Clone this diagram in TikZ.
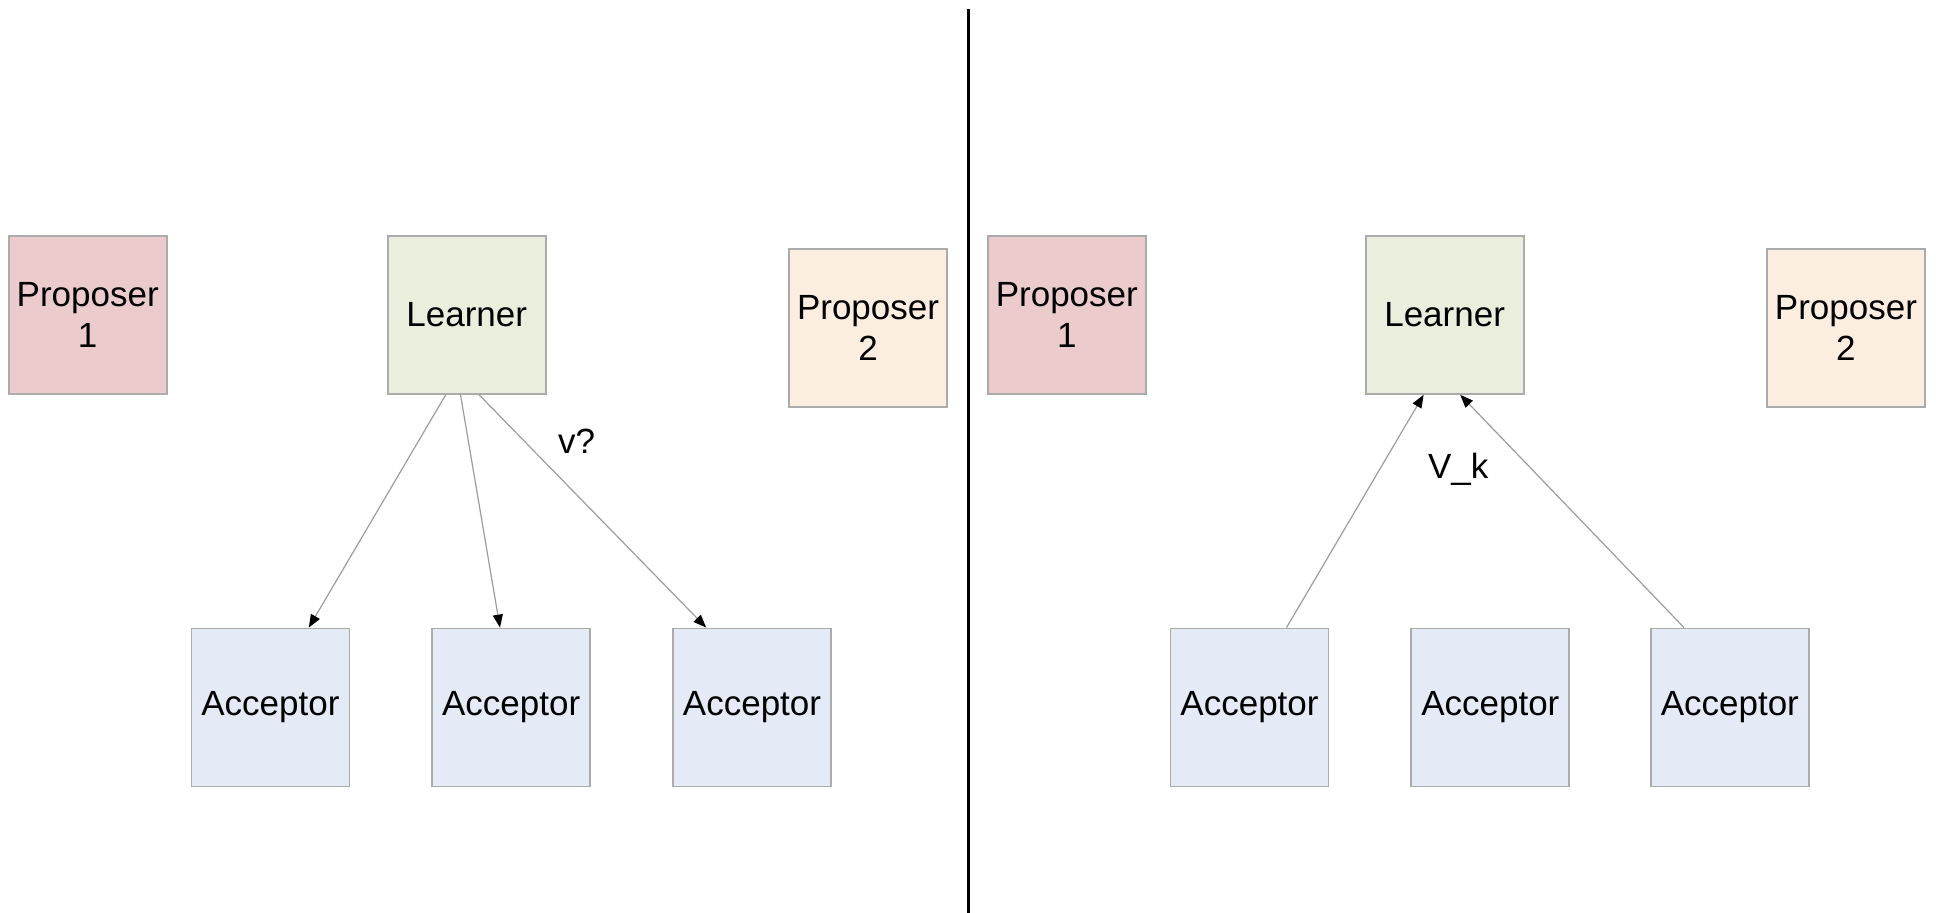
\documentclass[tikz,border=0pt]{standalone}
\usepackage{fontspec}
\setmainfont{Liberation Sans}
\usetikzlibrary{arrows.meta,calc}

\definecolor{propA}{HTML}{EBCBCB}
\definecolor{propB}{HTML}{FCEDE1}
\definecolor{learnfill}{HTML}{E9EEDD}
\definecolor{accfill}{HTML}{E4EBF6}
\definecolor{boxline}{HTML}{ABABAB}
\definecolor{msgline}{HTML}{9C9C9C}

\tikzset{
  box/.style={draw=boxline, line width=0.9pt, minimum width=79pt, minimum height=79pt,
    inner sep=0pt, align=center, font=\fontsize{17.5}{20.5}\selectfont},
  proposerA/.style={box, fill=propA},
  proposerB/.style={box, fill=propB},
  learner/.style={box, fill=learnfill},
  acceptor/.style={box, fill=accfill},
  msg/.style={draw=msgline, line width=0.6pt,
    -{Triangle[black, length=6.5pt, width=5pt]}},
  tag/.style={font=\fontsize{17.5}{20.5}\selectfont, inner sep=0pt},
}

\begin{document}
\begin{tikzpicture}[x=0.5pt, y=-0.5pt]
  \useasboundingbox (0,0) rectangle (1936,913);

  % divider between the two phases
  \coordinate (top) at (968,9);
  \coordinate (bottom) at (968,913);
  \draw[line width=1.5pt] (top) -- (bottom);

  % ---- left: learner asks the acceptors ----
  \node[proposerA] (p1l) at (87.7,314.9) {Proposer\\1};
  \node[learner]   (ll)  at (466.7,314.9) {Learner};
  \node[proposerB] (p2l) at (868,328.4) {Proposer\\2};
  \node[acceptor]  (a1l) at (270.4,707.5) {Acceptor};
  \node[acceptor]  (a2l) at (511.2,707.5) {Acceptor};
  \node[acceptor]  (a3l) at (752,707.5) {Acceptor};

  \draw[msg] ($(ll.south)+(-10.5pt,0)$) -- ($(a1l.north)+(19.2pt,0)$);
  \draw[msg] ($(ll.south)+(-3.1pt,0)$)  -- ($(a2l.north)+(-5.6pt,0)$);
  \draw[msg] ($(ll.south)+(6.2pt,0)$)   -- ($(a3l.north)+(-22.9pt,0)$);
  \node[tag] (q) at (576.6,440.8) {v?};

  % ---- right: acceptors answer the learner ----
  \node[proposerA] (p1r) at (1066.8,314.9) {Proposer\\1};
  \node[learner]   (lr)  at (1444.6,314.9) {Learner};
  \node[proposerB] (p2r) at (1845.9,328.4) {Proposer\\2};
  \node[acceptor]  (a1r) at (1249.5,707.5) {Acceptor};
  \node[acceptor]  (a2r) at (1490.3,707.5) {Acceptor};
  \node[acceptor]  (a3r) at (1729.8,707.5) {Acceptor};

  \draw[msg] ($(a1r.north)+(18.5pt,0)$)  -- ($(lr.south)+(-10.5pt,0)$);
  \draw[msg] ($(a3r.north)+(-22.9pt,0)$) -- ($(lr.south)+(7.8pt,0)$);
  \node[tag] (vk) at (1458.2,469.2) {V\_k};
\end{tikzpicture}
\end{document}
